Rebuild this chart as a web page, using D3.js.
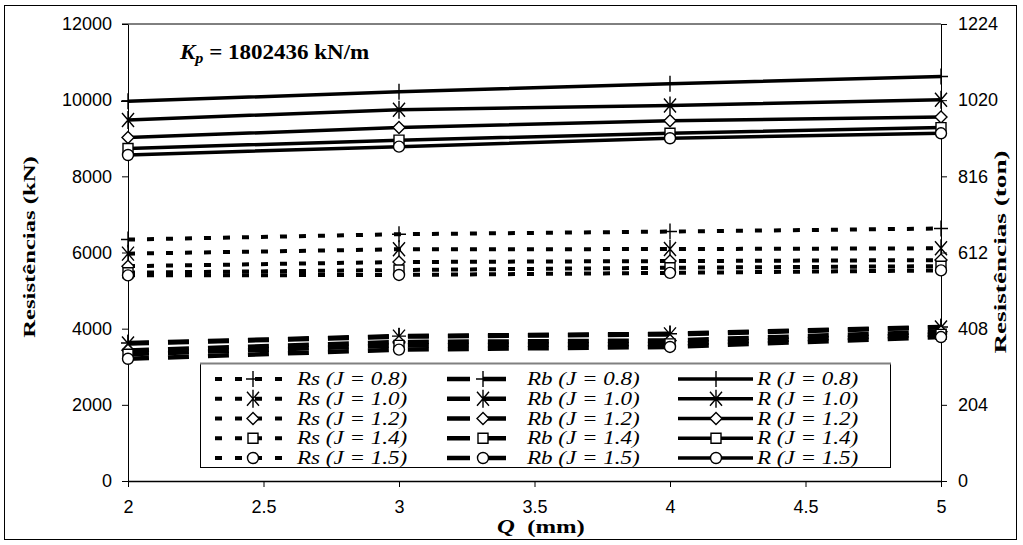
<!DOCTYPE html>
<html>
<head>
<meta charset="utf-8">
<script src="https://cdn.jsdelivr.net/npm/d3@7"></script>
<style>
  body { margin: 0; background: #fff; }
  svg { display: block; }
</style>
</head>
<body>
<svg id="chart" width="1023" height="545"></svg>
<script>
// valores
var qValues = [2, 3, 4, 5];
var jLabels = ["0.8", "1.0", "1.2", "1.4", "1.5"];
var markerTypes = ["plus", "star", "diamond", "square", "circle"];

// Rs - resistência lateral (kN)
var rsValues = [
  [6340, 6480, 6550, 6630],
  [5970, 6085, 6090, 6110],
  [5640, 5750, 5775, 5800],
  [5470, 5540, 5600, 5640],
  [5400, 5410, 5465, 5530]
];
// Rb - resistência de ponta (kN)
var rbValues = [
  [3625, 3805, 3865, 4045],
  [3610, 3790, 3850, 4030],
  [3430, 3650, 3690, 3920],
  [3330, 3560, 3600, 3850],
  [3210, 3450, 3520, 3780]
];
// R - resistência total (kN)
var rValues = [
  [9970, 10220, 10430, 10620],
  [9480, 9750, 9860, 10010],
  [9020, 9280, 9460, 9560],
  [8730, 8950, 9130, 9280],
  [8560, 8780, 9000, 9130]
];

var yTicksKN = [0, 2000, 4000, 6000, 8000, 10000, 12000];
var yTicksTon = [0, 204, 408, 612, 816, 1020, 1224];
var xTicks = [2, 2.5, 3, 3.5, 4, 4.5, 5];

var svg = d3.select("#chart");

var plot = { left: 128, right: 941, top: 24, bottom: 481 };

var x = d3.scaleLinear().domain([2, 5]).range([plot.left, plot.right]);
var y = d3.scaleLinear().domain([0, 12000]).range([plot.bottom, plot.top]);
var yTon = d3.scaleLinear().domain([0, 1224]).range([plot.bottom, plot.top]);

// moldura externa
svg.append("rect")
  .attr("x", 4.5).attr("y", 5.5)
  .attr("width", 1012).attr("height", 534)
  .attr("fill", "none").attr("stroke", "#000").attr("stroke-width", 1);

// estica texto na horizontal (a figura original parece esticada)
function stretch(sel, k) {
  sel.each(function () {
    var w = this.getComputedTextLength();
    this.setAttribute("textLength", w * k);
    this.setAttribute("lengthAdjust", "spacingAndGlyphs");
  });
}

// eixos
var axisFont = "'Liberation Sans', Arial, sans-serif";
var fmt = d3.format("d");

var gLeft = svg.append("g")
  .attr("transform", "translate(" + plot.left + ",0)")
  .call(d3.axisLeft(y).tickValues(yTicksKN).tickFormat(fmt).tickSize(6).tickSizeOuter(0).tickPadding(10));
var gRight = svg.append("g")
  .attr("transform", "translate(" + plot.right + ",0)")
  .call(d3.axisRight(yTon).tickValues(yTicksTon).tickFormat(fmt).tickSize(6).tickSizeOuter(0).tickPadding(11));
var gBottom = svg.append("g")
  .attr("transform", "translate(0," + plot.bottom + ")")
  .call(d3.axisBottom(x).tickValues(xTicks).tickFormat(function (d) { return String(d); })
    .tickSize(6).tickSizeOuter(0).tickPadding(13));

[gLeft, gRight, gBottom].forEach(function (g) {
  g.selectAll("text").style("font-family", axisFont).style("font-size", "18px").attr("fill", "#000");
  g.selectAll("line").attr("stroke", "#000");
  g.select(".domain").attr("stroke", "#000");
});
gBottom.select(".domain").attr("stroke-width", 1.6);

// linha superior do gráfico
svg.append("line")
  .attr("x1", x(2) - 6).attr("x2", x(5))
  .attr("y1", y(12000)).attr("y2", y(12000))
  .attr("stroke", "#000");

// títulos dos eixos
var serif = "'Liberation Serif', 'Times New Roman', serif";

svg.append("text")
  .attr("transform", "translate(35,247) rotate(-90)")
  .attr("text-anchor", "middle")
  .style("font-family", serif).style("font-weight", "bold").style("font-size", "17px")
  .text("Resistências (kN)")
  .call(stretch, 1.45);

svg.append("text")
  .attr("transform", "translate(1006,252) rotate(-90)")
  .attr("text-anchor", "middle")
  .style("font-family", serif).style("font-weight", "bold").style("font-size", "17px")
  .text("Resistências (ton)")
  .call(stretch, 1.6);

var xTitle = svg.append("text")
  .attr("x", 497).attr("y", 533)
  .style("font-family", serif).style("font-weight", "bold").style("font-size", "19px");
xTitle.append("tspan").style("font-style", "italic").text("Q");
xTitle.append("tspan").text("\u00a0 (mm)");
xTitle.call(stretch, 1.3);

// anotação Kp
var kp = svg.append("text")
  .attr("x", 180).attr("y", 59)
  .style("font-family", serif).style("font-weight", "bold").style("font-size", "20px");
kp.append("tspan").style("font-style", "italic").text("K");
kp.append("tspan").style("font-style", "italic").style("font-size", "14px").attr("dy", 4).text("p");
kp.append("tspan").attr("dy", -4).text(" = 1802436 kN/m");
kp.call(stretch, 1.15);

// estilos das séries
var seriesStyles = {
  rs: { width: 4, dash: "7,12" },
  rb: { width: 4.5, dash: "21,19" },
  r: { width: 3.5, dash: null }
};

var line = d3.line()
  .x(function (d, i) { return x(qValues[i]); })
  .y(function (d) { return y(d); });

function drawMarker(g, type, cx, cy) {
  var m = g.append("g").attr("transform", "translate(" + cx + "," + cy + ")");
  if (type === "plus") {
    m.append("path").attr("d", "M-7,0H7M0,-8V8").attr("fill", "none").attr("stroke", "#000").attr("stroke-width", 1.4);
  } else if (type === "star") {
    m.append("path").attr("d", "M-6,-7L6,7M-6,7L6,-7M0,-9V9").attr("fill", "none").attr("stroke", "#000").attr("stroke-width", 1.4);
  } else if (type === "diamond") {
    m.append("path").attr("d", "M0,-6L6,0L0,6L-6,0Z").attr("fill", "#fff").attr("stroke", "#000").attr("stroke-width", 1.4);
  } else if (type === "square") {
    m.append("path").attr("d", "M-5,-5H5V5H-5Z").attr("fill", "#fff").attr("stroke", "#000").attr("stroke-width", 1.4);
  } else {
    m.append("circle").attr("r", 5.5).attr("fill", "#fff").attr("stroke", "#000").attr("stroke-width", 1.4);
  }
}

var gSeries = svg.append("g");
function drawGroup(values, style) {
  values.forEach(function (vals) {
    gSeries.append("path")
      .datum(vals)
      .attr("d", line)
      .attr("fill", "none")
      .attr("stroke", "#000")
      .attr("stroke-width", style.width)
      .attr("stroke-dasharray", style.dash);
  });
}
drawGroup(rsValues, seriesStyles.rs);
drawGroup(rbValues, seriesStyles.rb);
drawGroup(rValues, seriesStyles.r);

var gMarks = svg.append("g");
[rsValues, rbValues, rValues].forEach(function (values) {
  values.forEach(function (vals, j) {
    vals.forEach(function (v, i) {
      drawMarker(gMarks, markerTypes[j], x(qValues[i]), y(v));
    });
  });
});

// legenda
var legend = { x: 200, y: 363, w: 690, h: 104 };
var gLeg = svg.append("g");
gLeg.append("rect")
  .attr("x", legend.x + 0.5).attr("y", legend.y + 0.5)
  .attr("width", legend.w).attr("height", legend.h)
  .attr("fill", "#fff").attr("stroke", "#000").attr("stroke-width", 1);
gLeg.append("line")
  .attr("x1", legend.x).attr("x2", legend.x + legend.w + 1)
  .attr("y1", legend.y + 0.5).attr("y2", legend.y + 0.5)
  .attr("stroke", "#808080").attr("stroke-width", 2);

var legCols = [
  { prefix: "Rs", style: { width: 4, dash: "7,13" }, x1: 215, x2: 290, mx: 253, tx: 297 },
  { prefix: "Rb", style: { width: 4.5, dash: "23,13" }, x1: 447, x2: 508, mx: 483, tx: 527 },
  { prefix: "R", style: seriesStyles.r, x1: 678, x2: 753, mx: 716, tx: 757 }
];
var rowY = d3.scaleLinear().domain([0, 4]).range([379, 458]);

legCols.forEach(function (c) {
  jLabels.forEach(function (jl, j) {
    var ry = rowY(j);
    gLeg.append("line")
      .attr("x1", c.x1).attr("x2", c.x2).attr("y1", ry).attr("y2", ry)
      .attr("stroke", "#000")
      .attr("stroke-width", c.style.width)
      .attr("stroke-dasharray", c.style.dash);
    drawMarker(gLeg, markerTypes[j], c.mx, ry);
    gLeg.append("text")
      .attr("x", c.tx).attr("y", ry + 6)
      .style("font-family", serif).style("font-style", "italic").style("font-size", "18px")
      .text(c.prefix + " (J = " + jl + ")")
      .call(stretch, 1.28);
  });
});
</script>
</body>
</html>
